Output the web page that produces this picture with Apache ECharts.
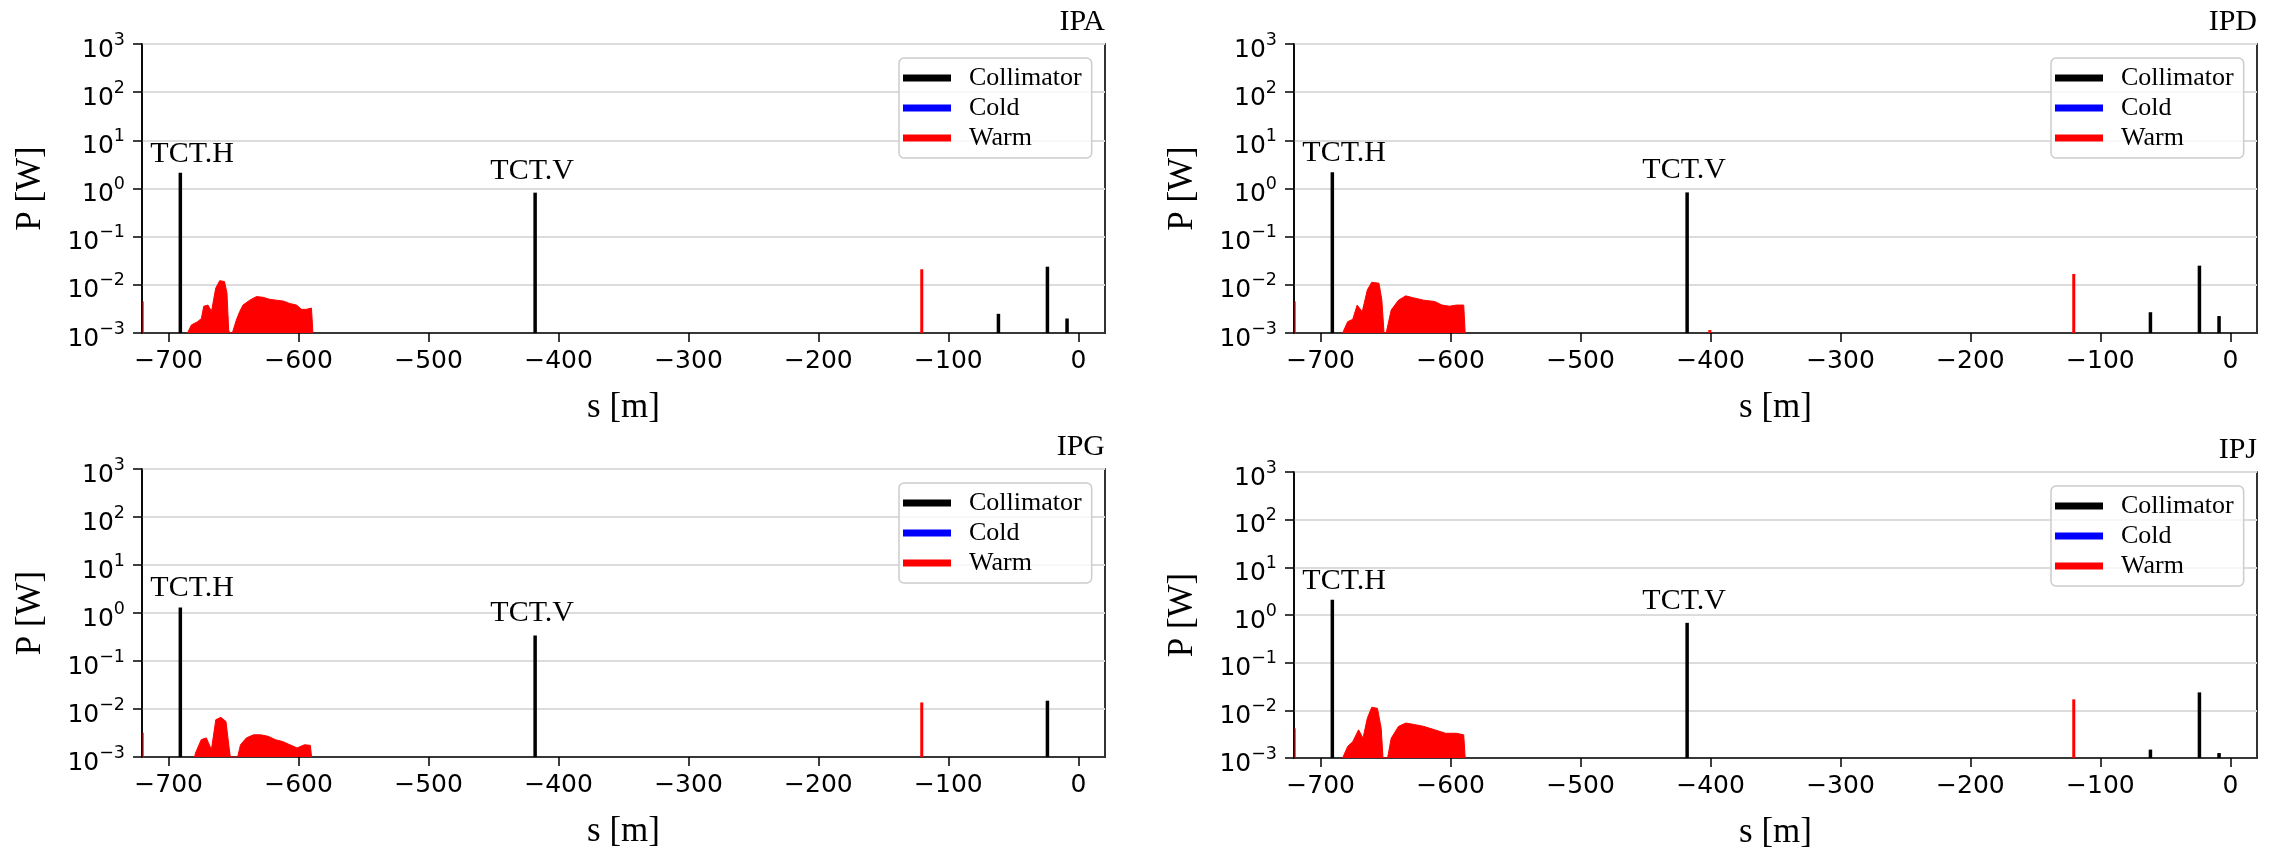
<!DOCTYPE html>
<html><head><meta charset="utf-8">
<script src="https://cdn.jsdelivr.net/npm/echarts@6/dist/echarts.min.js"></script>
<style>html,body{margin:0;padding:0;background:#fff}#c{width:2279px;height:851px}</style>
</head><body><div id="c"></div>
<script>
// ---------------- DATA ----------------
const panelNames = ['IPA', 'IPD', 'IPG', 'IPJ'];
const legendNames = ['Collimator', 'Cold', 'Warm'];
const xTicks = [-700, -600, -500, -400, -300, -200, -100, 0];
const annotationNames = ['TCT.H', 'TCT.V'];

// Collimator spikes [s (m), P (W)]; first two are TCT.H and TCT.V
const collIPA = [[-691, 2.13], [-418, 0.82], [-61.5, 0.0025], [-23.8, 0.0238], [-8.7, 0.0020]];
const collIPD = [[-691, 2.17], [-418, 0.83], [-61.5, 0.0027], [-23.8, 0.025], [-8.7, 0.00225]];
const collIPG = [[-691, 1.30], [-418, 0.34], [-23.8, 0.0149]];
const collIPJ = [[-691, 2.10], [-418, 0.685], [-61.5, 0.0015], [-23.8, 0.0238], [-8.7, 0.00127]];

// Warm isolated spikes [s, P]
const warmSpikeIPA = [[-720, 0.0045], [-120.5, 0.021]];
const warmSpikeIPD = [[-720, 0.0045], [-400.5, 0.00115], [-120.5, 0.0168]];
const warmSpikeIPG = [[-720, 0.0032], [-120.5, 0.0137]];
const warmSpikeIPJ = [[-720, 0.0042], [-120.5, 0.017]];

// Warm distributed losses (filled profile) s and P
const warmS_IPA = [-685.5, -682.5, -678, -674.8, -673, -669.7, -667, -666, -663.8, -660.7, -657, -655.1, -653.8, -653, -651, -650.5, -647.9, -645.3, -642.8, -637.6, -632.4, -627.3, -622.2, -617, -611.9, -606.8, -601.6, -597.8, -594, -590.1, -589];
const warmP_IPA = [0.001, 0.00147, 0.0017, 0.0020, 0.0036, 0.0038, 0.0028, 0.0026, 0.0085, 0.0122, 0.0117, 0.0067, 0.00115, 0.001, 0.001, 0.0011, 0.00186, 0.0028, 0.0038, 0.0048, 0.0057, 0.0055, 0.0050, 0.0048, 0.0046, 0.0041, 0.0038, 0.0031, 0.0031, 0.0033, 0.001];
const warmS_IPD = [-683.1, -679.2, -675.3, -671.9, -668, -664.1, -660.7, -655.1, -652.9, -651.2, -649.6, -645.7, -640.1, -634.5, -629, -620.6, -612.2, -606.6, -601, -595.5, -589.9, -588.8];
const warmP_IPD = [0.001, 0.00172, 0.00192, 0.0038, 0.00276, 0.0078, 0.0113, 0.0108, 0.0048, 0.001, 0.001, 0.0030, 0.0048, 0.0059, 0.0054, 0.0048, 0.0045, 0.0038, 0.0036, 0.0038, 0.0038, 0.001];
const warmS_IPG = [-680, -679.4, -674.9, -671, -667.1, -663.7, -659.8, -655.9, -653.6, -652.5, -646.9, -644.7, -640.2, -634.7, -629.1, -623.5, -617.9, -612.3, -606.7, -601.2, -595.5, -591, -590];
const warmP_IPG = [0.001, 0.0012, 0.0023, 0.0025, 0.00142, 0.0060, 0.0067, 0.0055, 0.00166, 0.001, 0.001, 0.0018, 0.0025, 0.0029, 0.0029, 0.0027, 0.0023, 0.0021, 0.0018, 0.00154, 0.0018, 0.00175, 0.001];
const warmS_IPJ = [-683.1, -679.2, -675.3, -670.8, -667.4, -664.1, -660.7, -656.3, -653.4, -652, -648.5, -645.7, -640.1, -634.5, -629, -620.6, -612.2, -603.8, -595.5, -589.9, -588.8];
const warmP_IPJ = [0.001, 0.00175, 0.0022, 0.0039, 0.0026, 0.0068, 0.0116, 0.011, 0.0042, 0.001, 0.001, 0.0026, 0.0046, 0.0054, 0.0051, 0.0046, 0.0039, 0.0033, 0.0033, 0.00306, 0.001];

// ---------------- LAYOUT / STYLE ----------------
const collData = [collIPA, collIPD, collIPG, collIPJ];
const warmSpikeData = [warmSpikeIPA, warmSpikeIPD, warmSpikeIPG, warmSpikeIPJ];
const warmShape = [[warmS_IPA, warmP_IPA], [warmS_IPD, warmP_IPD], [warmS_IPG, warmP_IPG], [warmS_IPJ, warmP_IPJ]];

const grids = [
  {left: 142, top: 44, width: 963, height: 289},
  {left: 1294, top: 44, width: 963, height: 289},
  {left: 142, top: 469, width: 963, height: 288},
  {left: 1294, top: 472, width: 963, height: 288}
];
const SERIF = '"Liberation Serif", "Times New Roman", serif';
const SANS = '"DejaVu Sans", sans-serif';
const YMIN = 1e-3, YMAX = 1e3;
const minus = v => (v < 0 ? '\u2212' + (-v) : String(v));

function spikeRender(color, width, withLabels) {
  return function (params, api) {
    const s = api.value(0), p = api.value(1);
    const top = api.coord([s, p]);
    const bot = api.coord([s, YMIN]);
    const edge = s <= -719;            // spike hugging the left spine is drawn thin
    const w = edge ? 1.5 : width;
    const children = [{
      type: 'line',
      shape: {x1: top[0] + (edge ? 0.5 : 0), y1: bot[1], x2: top[0] + (edge ? 0.5 : 0), y2: top[1]},
      style: {stroke: color, lineWidth: w, lineCap: 'butt', opacity: edge ? 0.75 : 1}
    }];
    if (withLabels && params.dataIndex < annotationNames.length) {
      const isH = params.dataIndex === 0;
      children.push({
        type: 'text',
        style: {
          text: annotationNames[params.dataIndex],
          x: isH ? top[0] - 30 : top[0] - 3,
          y: isH ? top[1] - 4 : top[1] - 7,
          align: isH ? 'left' : 'center',
          verticalAlign: 'bottom',
          font: '30px ' + SERIF,
          fill: '#000'
        }
      });
    }
    return {type: 'group', children: children};
  };
}

const option = {
  animation: false,
  backgroundColor: '#fff',
  grid: grids.map(g => Object.assign({show: true, borderColor: '#000', borderWidth: 1.6, backgroundColor: 'transparent'}, g)),
  title: panelNames.map((n, i) => ({
    text: n, right: 2279 - (grids[i].left + grids[i].width), top: grids[i].top - 37,
    textStyle: {fontFamily: SERIF, fontSize: 30, fontWeight: 'normal', color: '#000'},
    padding: 0
  })),
  legend: panelNames.map((n, i) => ({
    data: legendNames,
    orient: 'vertical',
    left: grids[i].left + grids[i].width - 13 - 193,
    top: grids[i].top + 14,
    icon: 'rect',
    itemWidth: 48, itemHeight: 7, itemGap: 4,
    padding: [7, 10, 7, 4],
    borderColor: '#cccccc', borderWidth: 1.5, borderRadius: 5,
    backgroundColor: 'rgba(255,255,255,0.8)',
    selectedMode: false,
    textStyle: {fontFamily: SERIF, fontSize: 26, lineHeight: 26, color: '#000', padding: [0, 0, 0, 13]}
  })),
  xAxis: grids.map((g, i) => ({
    type: 'value', gridIndex: i, min: -720.5, max: 20.5,
    name: 's [m]', nameLocation: 'middle', nameGap: 57,
    nameTextStyle: {fontFamily: SERIF, fontSize: 35, color: '#000'},
    axisLine: {show: true, onZero: false, lineStyle: {color: '#000', width: 1.6}},
    axisTick: {show: true, length: 9, customValues: xTicks, lineStyle: {color: '#000', width: 1.5}},
    axisLabel: {customValues: xTicks, formatter: minus, fontFamily: SANS, fontSize: 25, lineHeight: 25, color: '#000', margin: 16},
    splitLine: {show: false}
  })),
  yAxis: grids.map((g, i) => ({
    type: 'log', logBase: 10, gridIndex: i, min: YMIN, max: YMAX, splitNumber: 6,
    name: 'P [W]', nameLocation: 'middle', nameGap: 94, nameRotate: 90,
    nameTextStyle: {fontFamily: SERIF, fontSize: 35, color: '#000'},
    axisLine: {show: true, onZero: false, lineStyle: {color: '#000', width: 1.6}},
    axisTick: {show: true, length: 9, lineStyle: {color: '#000', width: 1.5}},
    minorTick: {show: false},
    axisLabel: {
      margin: 17,
      formatter: v => '{b|10}{s|' + minus(Math.round(Math.log10(v))) + '}',
      rich: {
        b: {fontFamily: SANS, fontSize: 25, lineHeight: 25, color: '#000', padding: [12, 0, 0, 0]},
        s: {fontFamily: SANS, fontSize: 17.5, lineHeight: 17.5, color: '#000', padding: [0, 0, 8, 0]}
      }
    },
    splitLine: {show: true, lineStyle: {color: '#dcdcdc', width: 2}}
  })),
  series: []
};

for (let i = 0; i < 4; i++) {
  const shapeData = warmShape[i][0].map((s, k) => [s, warmShape[i][1][k]]);
  option.series.push({
    name: 'Warm', type: 'line', xAxisIndex: i, yAxisIndex: i,
    data: shapeData, symbol: 'none', silent: true,
    itemStyle: {color: '#ff0000'},
    lineStyle: {color: '#ff0000', width: 1},
    areaStyle: {color: '#ff0000', opacity: 1, origin: 'start'},
    z: 3
  });
  option.series.push({
    name: 'Warm', type: 'custom', xAxisIndex: i, yAxisIndex: i,
    data: warmSpikeData[i], itemStyle: {color: '#ff0000'},
    renderItem: spikeRender('#ff0000', 3, false), z: 4
  });
  option.series.push({
    name: 'Cold', type: 'line', xAxisIndex: i, yAxisIndex: i,
    data: [], itemStyle: {color: '#0000ff'}, lineStyle: {color: '#0000ff'}
  });
  option.series.push({
    name: 'Collimator', type: 'custom', xAxisIndex: i, yAxisIndex: i,
    data: collData[i], itemStyle: {color: '#000000'},
    renderItem: spikeRender('#000000', 3.5, true), z: 5
  });
}

const chart = echarts.init(document.getElementById('c'), null, {renderer: 'canvas'});
chart.setOption(option);
</script>
</body></html>
